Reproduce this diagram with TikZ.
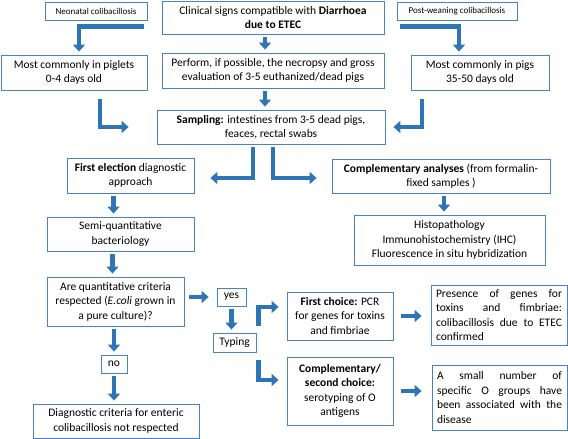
\documentclass[tikz,border=0pt]{standalone}
\usepackage{fontspec}
\setmainfont{Carlito}
\usetikzlibrary{arrows.meta,calc}
\definecolor{BoxClr}{RGB}{70,130,200}
\definecolor{ArrowClr}{RGB}{46,117,182}

\begin{document}
\begin{tikzpicture}[x=1pt,y=-1pt,
  box/.style={draw=BoxClr,line width=0.8pt,fill=white,align=center,inner sep=2pt,
    font=\fontsize{11.5}{14.5}\selectfont},
  smallbox/.style={box,font=\fontsize{9}{10}\selectfont},
  flow/.style={draw=ArrowClr,line width=4.5pt,-{Triangle[length=7pt,width=12pt]},
    shorten <=3pt,shorten >=3pt}]
\useasboundingbox (0,0) rectangle (568,439);

% top row
\node[smallbox,minimum width=102pt,minimum height=18pt] (neo) at (96,11) {Neonatal colibacillosis};
\node[box,minimum width=222pt,minimum height=33pt] (clin) at (273,17.5) {Clinical signs compatible with \textbf{Diarrhoea}\\\textbf{due to ETEC}};
\node[smallbox,minimum width=120pt,minimum height=18pt] (post) at (457,11) {Post-weaning colibacillosis};

\node[box,minimum width=146pt,minimum height=35pt] (piglets) at (74,72.5) {Most commonly in piglets\\0-4 days old};
\node[box,minimum width=222pt,minimum height=35pt] (necropsy) at (273,70.5) {Perform, if possible, the necropsy and gross\\evaluation of 3-5 euthanized/dead pigs};
\node[box,minimum width=138pt,minimum height=35pt] (pigs) at (480,72.5) {Most commonly in pigs\\35-50 days old};

\node[box,minimum width=228pt,minimum height=34pt] (sampling) at (271,127) {\textbf{Sampling:} intestines from 3-5 dead pigs,\\feaces, rectal swabs};

% two branches
\node[box,minimum width=127pt,minimum height=35pt] (election) at (130.5,175.5) {\textbf{First election} diagnostic\\approach};
\node[box,minimum width=218pt,minimum height=34pt] (complement) at (441,176) {\textbf{Complementary analyses} (from formalin-\\fixed samples )};
\node[box,minimum width=191pt,minimum height=50pt] (histo) at (449.5,240) {Histopathology\\Immunohistochemistry (IHC)\\Fluorescence in situ hybridization};
\node[box,minimum width=147pt,minimum height=34pt] (semi) at (120.5,234) {Semi-quantitative\\bacteriology};
\node[box,minimum width=137pt,minimum height=49pt] (criteria) at (115.5,301.5) {Are quantitative criteria\\respected (\textit{E.coli} grown in\\a pure culture)?};
\node[box,minimum width=29pt,minimum height=18pt] (yes) at (231.5,297) {yes};
\node[box,minimum width=43pt,minimum height=19pt] (typing) at (234.5,342.5) {Typing};
\node[box,minimum width=26pt,minimum height=18pt] (no) at (114,364) {no};
\node[box,minimum width=166pt,minimum height=34pt] (notmet) at (116,421) {Diagnostic criteria for enteric\\colibacillosis not respected};

% typing results
\node[box,minimum width=106pt,minimum height=48pt] (pcr) at (340,316) {\textbf{First choice:} PCR\\for genes for toxins\\and fimbriae};
\node[box,minimum width=136pt,minimum height=60pt,text width=126pt,align=left] (etec) at (499,315) {Presence\hfill of\hfill genes\hfill for\\toxins\hfill and\hfill fimbriae:\\colibacillosis\hfill due\hfill to\hfill ETEC\\confirmed};
\node[box,minimum width=106pt,minimum height=68pt] (serotyping) at (340,391) {\textbf{Complementary/}\\\textbf{second choice:}\\serotyping of O\\antigens};
\node[box,minimum width=135pt,minimum height=65pt,text width=125pt,align=left] (ogroups) at (499.5,397.5) {A\hfill small\hfill number\hfill of\\specific\hfill O\hfill groups\hfill have\\been\hfill associated\hfill with\hfill the\\disease};

% arrows
\draw[flow] ([yshift=-6pt]neo.south east) -| ([xshift=5pt]piglets.north);
\draw[flow] ([yshift=-6pt]post.south west) -| ([xshift=-21pt]pigs.north);
\draw[flow] ([xshift=-8pt]clin.south) -- ([xshift=-8pt]necropsy.north);
\draw[flow] ([xshift=-8pt]necropsy.south) -- ([xshift=-6pt]sampling.north);
\draw[flow] ($(piglets.south)+(26,6)$) |- ($(sampling.west)+(-25,0)$);
\draw[flow] ($(pigs.south)+(-58,6)$) |- ($(sampling.east)+(5,0)$);
\draw[flow] ($(sampling.south)+(-18,0)$) |- ($(election.east)+(13,2.5)$);
\draw[flow] ($(sampling.south)+(2,0)$) |- ($(complement.west)+(-12,2)$);
\draw[flow] ($(complement.south)+(3,0)$) -- ($(complement.south |- histo.north)+(3,0)$);
\draw[flow] ($(semi.north |- election.south)+(-7,0)$) -- ($(semi.north)+(-7,0)$);
\draw[flow] ($(semi.south)+(-8,0)$) -- ($(criteria.north -| semi.south)+(-8,0)$);
\draw[flow,shorten <=5pt,shorten >=8pt] (yes.west -| criteria.east) -- (yes.west);
\draw[flow] (yes.south) -- (typing.north -| yes.south);
\draw[flow] ($(typing.north east)+(2,-4)$) |- ($(pcr.west)+(-5,-9)$);
\draw[flow] ($(typing.south east)+(2,5)$) |- ($(serotyping.west)+(-5,-11)$);
\draw[flow] (criteria.south -| no.north) -- (no.north);
\draw[flow] (no.south) -- (notmet.north -| no.south);
\draw[flow,shorten <=8pt,shorten >=9pt] (pcr.east) -- (etec.west |- pcr.east);
\draw[flow,shorten <=8pt,shorten >=10pt] (serotyping.east) -- (ogroups.west |- serotyping.east);

\end{tikzpicture}
\end{document}
